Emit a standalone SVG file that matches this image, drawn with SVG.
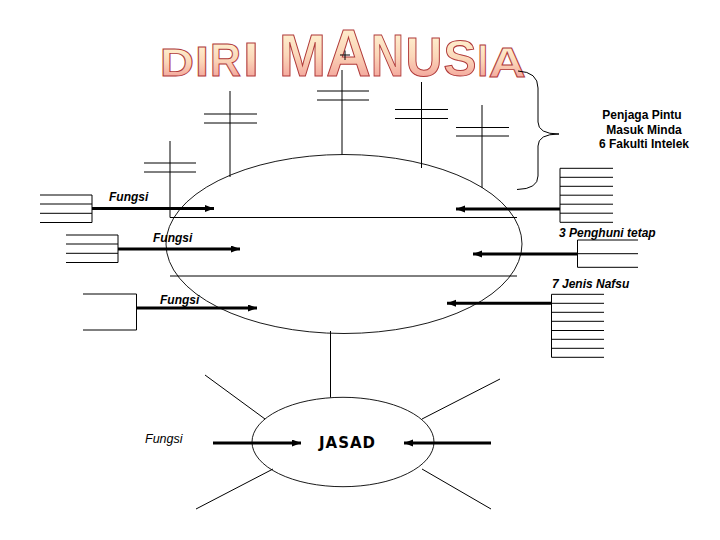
<svg xmlns="http://www.w3.org/2000/svg" width="720" height="540" viewBox="0 0 720 540">
<style>
.ln{stroke:#000;stroke-width:1;fill:none}
.el{stroke:#000;stroke-width:0.9;fill:none}
.ar{stroke:#000;stroke-width:3;fill:none;marker-end:url(#ah)}
.lbl{font-family:"Liberation Sans",Arial,sans-serif;font-size:12px;font-weight:bold;font-style:italic;fill:#000}
.note{font-family:"Liberation Sans",Arial,sans-serif;font-size:12px;font-weight:bold;fill:#000}
.tt{font-family:"Liberation Sans",Arial,sans-serif;font-weight:bold;fill:url(#tg);stroke:#b03a3a;stroke-width:1;vector-effect:non-scaling-stroke}
</style>
<defs>
<marker id="ah" markerUnits="userSpaceOnUse" markerWidth="10" markerHeight="8" refX="9" refY="3.5" orient="auto">
<path d="M0,0 L9,3.5 L0,7 z" fill="#000"/>
</marker>
<linearGradient id="tg" x1="0" y1="0" x2="0" y2="1">
<stop offset="0" stop-color="#fffbd8"/>
<stop offset="0.5" stop-color="#fbd6b8"/>
<stop offset="1" stop-color="#f09090"/>
</linearGradient>
</defs>
<rect width="720" height="540" fill="#fff"/>

<g id="title">
<text class="tt" font-size="47.1" transform="translate(160,76) scale(1,0.83)">D</text>
<text class="tt" font-size="50.4" transform="translate(195,76) scale(1,0.83)">I</text>
<text class="tt" font-size="42.9" transform="translate(210,76) scale(1,1.075)">R</text>
<text class="tt" font-size="57.6" transform="translate(243,76) scale(1,0.85)">I</text>
<text class="tt" font-size="56.4" transform="translate(279,76) scale(1,1.04)">M</text>
<text class="tt" font-size="62.3" transform="translate(326,76) scale(1,1.076)">A</text>
<text class="tt" font-size="45.7" transform="translate(371,76) scale(1,1.284)">N</text>
<text class="tt" font-size="51.2" transform="translate(405.5,76) scale(1,1.09)">U</text>
<text class="tt" font-size="49.5" transform="translate(443.5,76) scale(1,1.017)">S</text>
<text class="tt" font-size="37.8" transform="translate(477.5,76) scale(1,1.18)">I</text>
<text class="tt" font-size="51.9" transform="translate(488.5,77) scale(1,0.81)">A</text>
<path class="ln" d="M340,55 H350 M345,50.5 V60"/>
</g>

<g id="diri">
<ellipse class="el" cx="344" cy="244" rx="178" ry="89.5"/>
<path class="ln" d="M170,217.5 H517 M170,276 H517"/>
</g>

<g id="cross1"><path class="ln" d="M170,141 V217.5 M144,163 H196 M144,172 H196"/></g>
<g id="cross2"><path class="ln" d="M230,91 V177 M204,114 H257 M204,123 H257"/></g>
<g id="cross3"><path class="ln" d="M342,70 V154.5 M317,91 H369 M317,100 H369"/></g>
<g id="cross4"><path class="ln" d="M421.5,82 V168 M395,109.5 H448 M395,118.5 H448"/></g>
<g id="cross5"><path class="ln" d="M482,105 V188 M456,127.5 H509 M456,136 H509"/></g>

<g id="brace"><path class="ln" d="M518,71 Q538,72 538,88 V122 Q538,134 559,134 Q538,134 538,146 V176 Q538,189 517,189.5"/></g>
<g id="penjaga">
<text class="note" text-anchor="middle" x="642" y="119">Penjaga Pintu</text>
<text class="note" text-anchor="middle" x="644" y="134">Masuk Minda</text>
<text class="note" text-anchor="middle" x="644" y="148">6 Fakulti Intelek</text>
</g>

<g id="box-l1"><path class="ln" d="M40,195 H92 V222.5 H40 M40,204 H92 M40,213.3 H92"/><text class="lbl" x="109" y="201">Fungsi</text></g>
<g id="box-l2"><path class="ln" d="M66,235 H118 V262.5 H66 M66,244 H118 M66,253.3 H118"/><text class="lbl" x="153" y="242">Fungsi</text></g>
<g id="box-l3"><path class="ln" d="M83,294 H136.5 V330 H83"/><text class="lbl" x="160" y="304">Fungsi</text></g>

<g id="box-r1"><path class="ln" d="M613,168.3 H560 V222.3 H613 M560,177.3 H613 M560,186.3 H613 M560,195.2 H613 M560,204.2 H613 M560,213.2 H613"/></g>
<g id="box-r2"><path class="ln" d="M638,240 H577.5 V267.3 H638 M577.5,253.7 H638"/><text class="lbl" x="559" y="237">3 Penghuni tetap</text></g>
<g id="box-r3"><path class="ln" d="M604,294.3 H551.5 V357.3 H604 M551.5,303.3 H604 M551.5,312.3 H604 M551.5,321.3 H604 M551.5,330.5 H604 M551.5,339.3 H604 M551.5,348.3 H604"/><text class="lbl" x="552" y="288">7 Jenis Nafsu</text></g>

<g id="jasad">
<ellipse class="el" cx="343" cy="442" rx="91" ry="44.7"/>
<text x="319" y="448" font-family="'DejaVu Sans',sans-serif" font-size="15" font-weight="bold" letter-spacing="1">JASAD</text>
</g>
<g id="fungsi-jasad"><text x="145" y="443" font-family="'Liberation Sans',Arial,sans-serif" font-size="12.5" font-style="italic">Fungsi</text></g>

<g id="connectors">
<path class="ar" d="M92,208.5 H214"/>
<path class="ar" d="M118,249 H240"/>
<path class="ar" d="M136.5,308 H257"/>
<path class="ar" d="M560,209 H456"/>
<path class="ar" d="M577.5,254 H473"/>
<path class="ar" d="M551.5,303.3 H447"/>
<path class="ar" d="M213,443 H301"/>
<path class="ar" d="M491,443 H404"/>
<path class="ln" d="M330.5,331 V397.5"/>
<path class="ln" d="M205,375 L265,419 M500,379 L422,419 M273,469 L196,509 M422,469 L491,509"/>
</g>
</svg>
